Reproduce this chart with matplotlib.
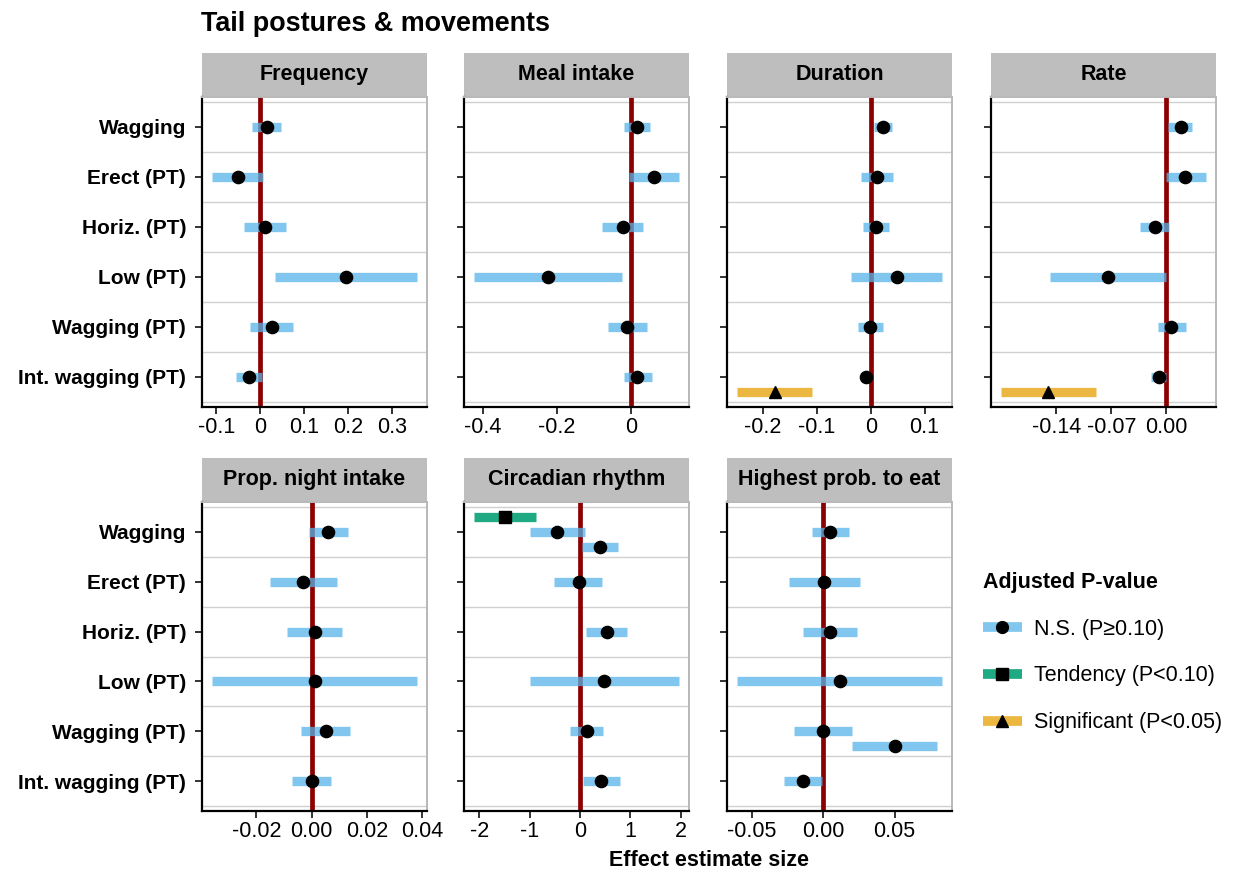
import matplotlib.pyplot as plt
from matplotlib.lines import Line2D

plt.rcParams['font.family'] = ['Liberation Sans', 'DejaVu Sans']

# ==================================================
#   Data
behaviours = ["Wagging", "Erect (PT)", "Horiz. (PT)", "Low (PT)",
              "Wagging (PT)", "Int. wagging (PT)"]
levels = ["N.S. (P\u22650.10)", "Tendency (P<0.10)", "Significant (P<0.05)"]

# Frequency
freq_beh = [0, 1, 2, 3, 4, 5]
freq_est = [0.016, -0.051, 0.010, 0.194, 0.026, -0.026]
freq_lo = [-0.019, -0.109, -0.037, 0.033, -0.022, -0.055]
freq_hi = [0.048, 0.007, 0.058, 0.356, 0.074, 0.004]
freq_lvl = [0, 0, 0, 0, 0, 0]
freq_slot = [0, 0, 0, 0, 0, 0]
freq_ticks = [-0.1, 0, 0.1, 0.2, 0.3]
freq_labels = ["-0.1", "0", "0.1", "0.2", "0.3"]

# Meal intake
meal_beh = [0, 1, 2, 3, 4, 5]
meal_est = [0.018, 0.063, -0.022, -0.224, -0.009, 0.018]
meal_lo = [-0.018, -0.006, -0.078, -0.424, -0.062, -0.018]
meal_hi = [0.053, 0.130, 0.034, -0.023, 0.043, 0.057]
meal_lvl = [0, 0, 0, 0, 0, 0]
meal_slot = [0, 0, 0, 0, 0, 0]
meal_ticks = [-0.4, -0.2, 0]
meal_labels = ["-0.4", "-0.2", "0"]

# Duration
dur_beh = [0, 1, 2, 3, 4, 5, 5]
dur_est = [0.023, 0.012, 0.010, 0.048, -0.001, -0.009, -0.178]
dur_lo = [0.007, -0.018, -0.014, -0.037, -0.023, -0.017, -0.248]
dur_hi = [0.039, 0.042, 0.034, 0.132, 0.023, 0.000, -0.109]
dur_lvl = [0, 0, 0, 0, 0, 0, 2]
dur_slot = [0, 0, 0, 0, 0, 0, -1]
dur_ticks = [-0.2, -0.1, 0, 0.1]
dur_labels = ["-0.2", "-0.1", "0", "0.1"]

# Rate
rate_beh = [0, 1, 2, 3, 4, 5, 5]
rate_est = [0.018, 0.024, -0.014, -0.074, 0.006, -0.010, -0.151]
rate_lo = [0.002, 0.000, -0.033, -0.148, -0.011, -0.019, -0.210]
rate_hi = [0.033, 0.050, 0.003, 0.000, 0.025, 0.000, -0.090]
rate_lvl = [0, 0, 0, 0, 0, 0, 2]
rate_slot = [0, 0, 0, 0, 0, 0, -1]
rate_ticks = [-0.14, -0.07, 0.0]
rate_labels = ["-0.14", "-0.07", "0.00"]

# Prop. night intake
night_beh = [0, 1, 2, 3, 4, 5]
night_est = [0.006, -0.003, 0.001, 0.001, 0.005, 0.000]
night_lo = [-0.001, -0.015, -0.009, -0.036, -0.004, -0.007]
night_hi = [0.013, 0.009, 0.011, 0.038, 0.014, 0.007]
night_lvl = [0, 0, 0, 0, 0, 0]
night_slot = [0, 0, 0, 0, 0, 0]
night_ticks = [-0.02, 0.0, 0.02, 0.04]
night_labels = ["-0.02", "0.00", "0.02", "0.04"]

# Circadian rhythm
circ_beh = [0, 0, 0, 1, 2, 3, 4, 5]
circ_est = [-1.48, -0.45, 0.39, -0.03, 0.53, 0.48, 0.13, 0.42]
circ_lo = [-2.10, -0.99, 0.03, -0.51, 0.12, -1.00, -0.20, 0.05]
circ_hi = [-0.88, 0.09, 0.76, 0.44, 0.94, 1.96, 0.45, 0.80]
circ_lvl = [1, 0, 0, 0, 0, 0, 0, 0]
circ_slot = [1, 0, -1, 0, 0, 0, 0, 0]
circ_ticks = [-2, -1, 0, 1, 2]
circ_labels = ["-2", "-1", "0", "1", "2"]

# Highest prob. to eat
high_beh = [0, 1, 2, 3, 4, 4, 5]
high_est = [0.005, 0.001, 0.005, 0.012, 0.000, 0.050, -0.014]
high_lo = [-0.008, -0.024, -0.014, -0.060, -0.020, 0.020, -0.027]
high_hi = [0.018, 0.026, 0.024, 0.083, 0.020, 0.080, -0.001]
high_lvl = [0, 0, 0, 0, 0, 0, 0]
high_slot = [0, 0, 0, 0, 0, -1, 0]
high_ticks = [-0.05, 0.0, 0.05]
high_labels = ["-0.05", "0.00", "0.05"]

# ==================================================
#   Styles
bar_cols = [(0.337, 0.706, 0.914, 0.75), (0.0, 0.62, 0.451, 0.88), (0.902, 0.624, 0.0, 0.75)]
markers = ['o', 's', '^']
W, H = 1234, 873


def rect(l, t, r, b):
    return [l / W, 1 - b / H, (r - l) / W, (b - t) / H]


def panel(col, row, name, beh, est, lo, hi, lvl, slot, ticks, labels):
    cols = [202, 464, 727, 991]
    rows = [(53, 97, 407), (458, 502, 811)]
    l = cols[col]
    st, pt, pb = rows[row]

    # strip
    sax = fig.add_axes(rect(l, st, l + 225, pt - 1))
    sax.set_facecolor('#BEBEBE')
    sax.set_xticks([])
    sax.set_yticks([])
    for s in sax.spines.values():
        s.set_visible(False)
    sax.text(0.5, 0.5, name, ha='center', va='center', fontsize=15.5,
             fontweight='bold', transform=sax.transAxes)

    ax = fig.add_axes(rect(l, pt, l + 225, pb))
    n = len(behaviours)
    ypos = [n - b + 0.3 * s for b, s in zip(beh, slot)]

    for g in range(n + 1):
        ax.axhline(g + 0.5, color='#D0D0D0', lw=1.0, zorder=0)
    ax.axvline(0, color='#8B0000', lw=3.4, zorder=1)

    for i in range(len(est)):
        ax.hlines(ypos[i], lo[i], hi[i], colors=[bar_cols[lvl[i]]], lw=6.7,
                  capstyle='butt', zorder=2)
        ax.plot(est[i], ypos[i], marker=markers[lvl[i]], color='black',
                ms=8.8, ls='none', zorder=3)

    xmin = min(min(lo), 0)
    xmax = max(max(hi), 0)
    pad = 0.05 * (xmax - xmin)
    ax.set_xlim(xmin - pad, xmax + pad)
    ax.set_ylim(0.4, n + 0.6)

    ax.set_xticks(ticks)
    ax.set_xticklabels(labels, fontsize=15.5)
    ax.set_yticks(range(1, n + 1))
    if col == 0:
        ax.set_yticklabels(behaviours[::-1], fontsize=15, fontweight='bold')
    else:
        ax.set_yticklabels([])
    ax.tick_params(axis='both', length=5, width=1.4, color='#333333',
                   labelcolor='black')
    ax.tick_params(axis='x', pad=2)
    ax.tick_params(axis='y', pad=6.5)

    ax.spines['left'].set_color('black')
    ax.spines['left'].set_linewidth(1.6)
    ax.spines['bottom'].set_color('black')
    ax.spines['bottom'].set_linewidth(1.6)
    ax.spines['top'].set_color('#B8B8B8')
    ax.spines['top'].set_linewidth(1.4)
    ax.spines['right'].set_color('#B8B8B8')
    ax.spines['right'].set_linewidth(1.4)
    return ax


# ==================================================
fig = plt.figure(figsize=(W / 100, H / 100), dpi=100)

panel(0, 0, "Frequency", freq_beh, freq_est, freq_lo, freq_hi, freq_lvl, freq_slot, freq_ticks, freq_labels)
panel(1, 0, "Meal intake", meal_beh, meal_est, meal_lo, meal_hi, meal_lvl, meal_slot, meal_ticks, meal_labels)
panel(2, 0, "Duration", dur_beh, dur_est, dur_lo, dur_hi, dur_lvl, dur_slot, dur_ticks, dur_labels)
panel(3, 0, "Rate", rate_beh, rate_est, rate_lo, rate_hi, rate_lvl, rate_slot, rate_ticks, rate_labels)
panel(0, 1, "Prop. night intake", night_beh, night_est, night_lo, night_hi, night_lvl, night_slot, night_ticks, night_labels)
panel(1, 1, "Circadian rhythm", circ_beh, circ_est, circ_lo, circ_hi, circ_lvl, circ_slot, circ_ticks, circ_labels)
panel(2, 1, "Highest prob. to eat", high_beh, high_est, high_lo, high_hi, high_lvl, high_slot, high_ticks, high_labels)

fig.text(201 / W, 1 - 31 / H, "Tail postures & movements", fontsize=19.4,
         fontweight='bold', ha='left', va='baseline')
fig.text(709 / W, 1 - 860 / H, "Effect estimate size", fontsize=15.5,
         fontweight='bold', ha='center', va='center')

handles = []
for i in range(3):
    handles.append(Line2D([], [], color=bar_cols[i], lw=7, marker=markers[i],
                          mfc='black', mec='black', ms=8.5, solid_capstyle='butt'))
fig.legend(handles, levels, loc='upper left', bbox_to_anchor=(972 / W, 1 - 561 / H),
           frameon=False, title='Adjusted P-value', alignment='left',
           title_fontproperties={'weight': 'bold', 'size': 15.5}, fontsize=15.5,
           handlelength=1.8, labelspacing=1.2, handletextpad=0.6, borderpad=0)

fig.savefig('out.png', dpi=100)
